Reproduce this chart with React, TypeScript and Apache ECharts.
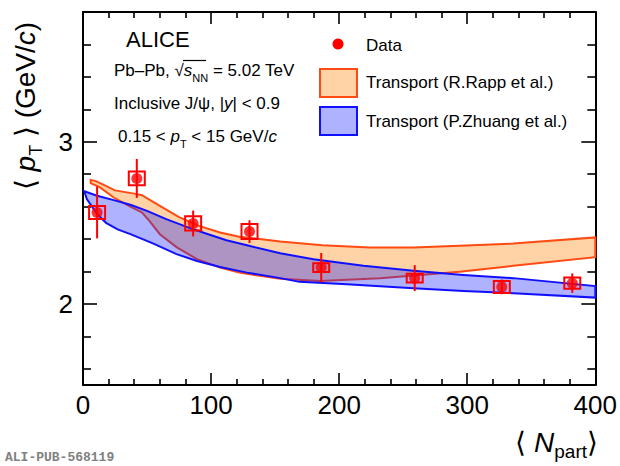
import React, { useEffect, useRef } from "react";
import * as echarts from "echarts";

// ---- data ----
const npart = [11, 42, 86, 130, 186, 259, 327, 382];
const meanPt = [2.564, 2.774, 2.496, 2.446, 2.224, 2.159, 2.105, 2.128];
const statErr = [0.16, 0.12, 0.08, 0.07, 0.09, 0.08, 0.045, 0.06];
const sysErr = [0.04, 0.042, 0.044, 0.046, 0.027, 0.027, 0.037, 0.035];

const rappUpper = [
  [6, 2.765], [10, 2.757], [15, 2.739], [25, 2.7], [40, 2.68], [46, 2.67], [60, 2.605],
  [75, 2.535], [90, 2.483], [107, 2.44], [122, 2.414], [138, 2.4], [154, 2.385], [187, 2.362],
  [224, 2.348], [258, 2.348], [294, 2.358], [336, 2.372], [400, 2.41],
];
const rappLower = [
  [6, 2.745], [13, 2.72], [24, 2.656], [37, 2.6], [46, 2.564], [52, 2.51], [60, 2.43],
  [73, 2.35], [89, 2.276], [107, 2.224], [122, 2.193], [138, 2.173], [154, 2.155], [185, 2.142],
  [232, 2.159], [263, 2.179], [294, 2.198], [336, 2.235], [400, 2.288],
];
const zhuangUpper = [
  [1, 2.695], [11, 2.667], [24, 2.64], [37, 2.611], [50, 2.574], [65, 2.523], [81, 2.475],
  [96, 2.434], [112, 2.393], [128, 2.362], [154, 2.312], [180, 2.276], [219, 2.235], [258, 2.204],
  [297, 2.179], [336, 2.159], [400, 2.11],
];
const zhuangLower = [
  [1, 2.695], [3, 2.646], [11, 2.554], [18, 2.5], [27, 2.46], [37, 2.43], [55, 2.372], [73, 2.307],
  [89, 2.265], [107, 2.228], [128, 2.193], [154, 2.159], [169, 2.136], [206, 2.122], [258, 2.097],
  [297, 2.08], [336, 2.066], [400, 2.039],
];

const yMajor = [2, 3];
const yMinor = [1.6, 1.8, 2.2, 2.4, 2.6, 2.8, 3.2, 3.4, 3.6];

const FONT = "Liberation Sans, Arial, Helvetica, sans-serif";
const RED = "#ff0000";
const PEACH = "#ffd3a6";
const ORANGE = "#ff4a12";
const BLUEFILL = "rgba(10,20,255,0.33)";
const BLUE = "#1010ff";

function bandSeries(upper: number[][], lower: number[][], fill: string, stroke: string, z: number) {
  return {
    type: "custom",
    xAxisIndex: 0,
    yAxisIndex: 0,
    z,
    silent: true,
    data: [[0, 0]],
    renderItem: (_p: any, api: any) => {
      const pts = upper.map((d) => api.coord(d)).concat(lower.slice().reverse().map((d) => api.coord(d)));
      return {
        type: "polygon",
        shape: { points: pts },
        style: { fill, stroke, lineWidth: 2 },
      };
    },
  };
}

export default function App() {
  const ref = useRef<HTMLDivElement>(null);
  useEffect(() => {
    if (!ref.current) return;
    const chart = echarts.init(ref.current, null, { renderer: "svg" });
    const axisLine = { show: true, lineStyle: { color: "#000", width: 2 } };
    const xCommon = {
      type: "value",
      min: 0,
      max: 400,
      interval: 100,
      axisLine,
      axisTick: { show: true, inside: true, length: 12, lineStyle: { color: "#000", width: 1.6 } },
      minorTick: { show: true, splitNumber: 5, length: 6, lineStyle: { color: "#000", width: 1.6 } },
      splitLine: { show: false },
      minorSplitLine: { show: false },
    };
    const yBase = { type: "value", min: 1.5, max: 3.8, splitLine: { show: false } };
    const option: any = {
      animation: false,
      grid: { left: 83, right: 24, top: 12, bottom: 81, containLabel: false },
      xAxis: [
        {
          ...xCommon,
          position: "bottom",
          axisLabel: { show: true, fontSize: 26, color: "#000", fontFamily: FONT, margin: 7 },
        },
        { ...xCommon, position: "top", axisLabel: { show: false } },
      ],
      yAxis: [
        {
          ...yBase,
          position: "left",
          axisLine,
          axisTick: { show: true, inside: true, length: 14, customValues: yMajor, lineStyle: { color: "#000", width: 1.6 } },
          axisLabel: { show: true, customValues: yMajor, fontSize: 26, color: "#000", fontFamily: FONT, margin: 10 },
        },
        {
          ...yBase,
          position: "left",
          axisLine: { show: false },
          axisTick: { show: true, inside: true, length: 8, customValues: yMinor, lineStyle: { color: "#000", width: 1.6 } },
          axisLabel: { show: false },
        },
        {
          ...yBase,
          position: "right",
          axisLine,
          axisTick: { show: true, inside: true, length: 14, customValues: yMajor, lineStyle: { color: "#000", width: 1.6 } },
          axisLabel: { show: false },
        },
        {
          ...yBase,
          position: "right",
          axisLine: { show: false },
          axisTick: { show: true, inside: true, length: 8, customValues: yMinor, lineStyle: { color: "#000", width: 1.6 } },
          axisLabel: { show: false },
        },
      ],
      series: [
        bandSeries(rappUpper, rappLower, PEACH, ORANGE, 1),
        bandSeries(zhuangUpper, zhuangLower, BLUEFILL, BLUE, 2),
        {
          type: "custom",
          name: "errors",
          xAxisIndex: 0,
          yAxisIndex: 0,
          z: 3,
          silent: true,
          data: npart.map((x, i) => [x, meanPt[i], statErr[i], sysErr[i]]),
          renderItem: (_p: any, api: any) => {
            const x = api.value(0);
            const y = api.value(1);
            const s = api.value(2);
            const sy = api.value(3);
            const t = api.coord([x, y + s]);
            const b = api.coord([x, y - s]);
            const st = api.coord([x, y + sy]);
            const sb = api.coord([x, y - sy]);
            const hw = 8;
            return {
              type: "group",
              children: [
                {
                  type: "line",
                  shape: { x1: t[0], y1: t[1], x2: b[0], y2: b[1] },
                  style: { stroke: RED, lineWidth: 2 },
                },
                {
                  type: "rect",
                  shape: { x: st[0] - hw, y: st[1], width: hw * 2, height: sb[1] - st[1] },
                  style: { fill: "none", stroke: RED, lineWidth: 2 },
                },
              ],
            };
          },
        },
        {
          type: "scatter",
          name: "Data",
          xAxisIndex: 0,
          yAxisIndex: 0,
          z: 4,
          symbol: "circle",
          symbolSize: 11,
          itemStyle: { color: RED },
          data: npart.map((x, i) => [x, meanPt[i]]),
        },
      ],
      graphic: [
        // header texts
        {
          type: "text",
          left: 126,
          top: 28,
          style: { text: "ALICE", fontSize: 22, fontFamily: FONT, fill: "#000" },
        },
        {
          type: "text",
          x: 114,
          y: 70,
          style: {
            text: "{n|Pb–Pb, √}{i|s}{s|NN}{n| = 5.02 TeV}",
            fontFamily: FONT,
            fill: "#000",
            verticalAlign: "middle",
            rich: {
              n: { fontSize: 17, fontFamily: FONT, lineHeight: 26, verticalAlign: "middle" },
              i: { fontSize: 17, fontFamily: FONT, fontStyle: "italic", lineHeight: 26, verticalAlign: "middle" },
              s: { fontSize: 11, fontFamily: FONT, lineHeight: 11, verticalAlign: "bottom" },
            },
          },
        },
        // overline of the square root
        { type: "line", shape: { x1: 183, y1: 60.5, x2: 206, y2: 60.5 }, style: { stroke: "#000", lineWidth: 1.2 } },
        {
          type: "text",
          x: 114,
          y: 103,
          style: {
            text: "{n|Inclusive J/ψ, |}{i|y}{n|| < 0.9}",
            fontFamily: FONT,
            fill: "#000",
            verticalAlign: "middle",
            rich: {
              n: { fontSize: 17, fontFamily: FONT, lineHeight: 26, verticalAlign: "middle" },
              i: { fontSize: 17, fontFamily: FONT, fontStyle: "italic", lineHeight: 26, verticalAlign: "middle" },
            },
          },
        },
        {
          type: "text",
          x: 118,
          y: 136,
          style: {
            text: "{n|0.15 < }{i|p}{s|T}{n| < 15 GeV/}{i|c}",
            fontFamily: FONT,
            fill: "#000",
            verticalAlign: "middle",
            rich: {
              n: { fontSize: 17, fontFamily: FONT, lineHeight: 26, verticalAlign: "middle" },
              i: { fontSize: 17, fontFamily: FONT, fontStyle: "italic", lineHeight: 26, verticalAlign: "middle" },
              s: { fontSize: 11, fontFamily: FONT, lineHeight: 11, verticalAlign: "bottom" },
            },
          },
        },
        // legend
        { type: "circle", shape: { cx: 338, cy: 44, r: 5.5 }, style: { fill: RED } },
        {
          type: "text",
          x: 366,
          y: 45,
          style: { text: "Data", fontSize: 17, fontFamily: FONT, fill: "#000", verticalAlign: "middle" },
        },
        {
          type: "rect",
          shape: { x: 320, y: 69, width: 37, height: 28 },
          style: { fill: PEACH, stroke: ORANGE, lineWidth: 2 },
        },
        {
          type: "text",
          x: 366,
          y: 82,
          style: { text: "Transport (R.Rapp et al.)", fontSize: 17, fontFamily: FONT, fill: "#000", verticalAlign: "middle" },
        },
        {
          type: "rect",
          shape: { x: 320, y: 107, width: 37, height: 28 },
          style: { fill: BLUEFILL, stroke: BLUE, lineWidth: 2 },
        },
        {
          type: "text",
          x: 366,
          y: 121,
          style: { text: "Transport (P.Zhuang et al.)", fontSize: 17, fontFamily: FONT, fill: "#000", verticalAlign: "middle" },
        },
        // y axis title
        {
          type: "text",
          x: 25,
          y: 106,
          rotation: Math.PI / 2,
          style: {
            text: "{n|⟨ }{i|p}{s|T}{n| ⟩ (GeV/}{i|c}{n|)}",
            fontFamily: FONT,
            fill: "#000",
            align: "center",
            verticalAlign: "middle",
            rich: {
              n: { fontSize: 28, fontFamily: FONT, lineHeight: 40, verticalAlign: "middle" },
              i: { fontSize: 28, fontFamily: FONT, fontStyle: "italic", lineHeight: 40, verticalAlign: "middle" },
              s: { fontSize: 18, fontFamily: FONT, lineHeight: 18, verticalAlign: "bottom" },
            },
          },
        },
        // x axis title
        {
          type: "text",
          x: 598,
          y: 442,
          style: {
            text: "{n|⟨ }{i|N}{s|part}{n|⟩}",
            fontFamily: FONT,
            fill: "#000",
            align: "right",
            verticalAlign: "middle",
            rich: {
              n: { fontSize: 28, fontFamily: FONT, lineHeight: 38, verticalAlign: "middle" },
              i: { fontSize: 28, fontFamily: FONT, fontStyle: "italic", lineHeight: 38, verticalAlign: "middle" },
              s: { fontSize: 19, fontFamily: FONT, lineHeight: 19, verticalAlign: "bottom" },
            },
          },
        },
        // publication id
        {
          type: "text",
          x: 5,
          y: 457,
          style: {
            text: "ALI-PUB-568119",
            fontSize: 13,
            fontWeight: "bold",
            fontFamily: "Liberation Mono, DejaVu Sans Mono, monospace",
            fill: "#808080",
            verticalAlign: "middle",
          },
        },
      ],
    };
    chart.setOption(option);
    return () => chart.dispose();
  }, []);
  return (
    <div
      ref={ref}
      style={{ position: "fixed", left: 0, top: 0, width: 620, height: 466, background: "#fff" }}
    />
  );
}
